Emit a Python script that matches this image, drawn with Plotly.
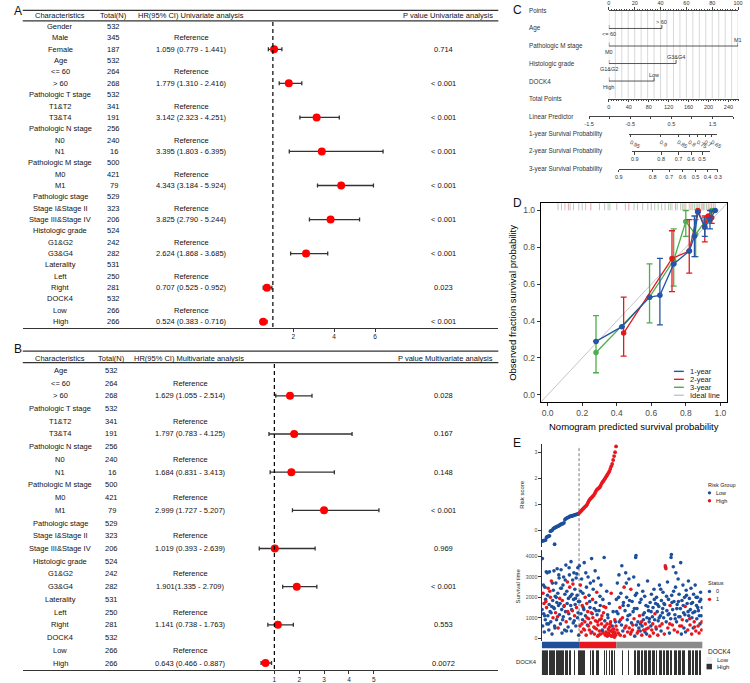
import plotly.graph_objects as go

W, H = 750, 683
FONT = "Liberation Sans, Arial, sans-serif"


def fx(px):
    return px / W


def fy(py):
    return 1 - py / H


# ---------------- Panel A : univariate Cox ----------------
uni_labels = ["Gender", "Male", "Female", "Age", "<= 60", "> 60", "Pathologic T stage", "T1&T2", "T3&T4",
              "Pathologic N stage", "N0", "N1", "Pathologic M stage", "M0", "M1", "Pathologic stage",
              "Stage I&Stage II", "Stage III&Stage IV", "Histologic grade", "G1&G2", "G3&G4", "Laterality",
              "Left", "Right", "DOCK4", "Low", "High"]
uni_n = [532, 345, 187, 532, 264, 268, 532, 341, 191, 256, 240, 16, 500, 421, 79, 529, 323, 206,
         524, 242, 282, 531, 250, 281, 532, 266, 266]
uni_hr_text = ["", "Reference", "1.059 (0.779 - 1.441)", "", "Reference", "1.779 (1.310 - 2.416)",
               "", "Reference", "3.142 (2.323 - 4.251)", "", "Reference", "3.395 (1.803 - 6.395)",
               "", "Reference", "4.343 (3.184 - 5.924)", "", "Reference", "3.825 (2.790 - 5.244)",
               "", "Reference", "2.624 (1.868 - 3.685)", "", "Reference", "0.707 (0.525 - 0.952)",
               "", "Reference", "0.524 (0.383 - 0.716)"]
uni_p = ["", "", "0.714", "", "", "< 0.001", "", "", "< 0.001", "", "", "< 0.001", "", "", "< 0.001",
         "", "", "< 0.001", "", "", "< 0.001", "", "", "0.023", "", "", "< 0.001"]
uni_rows = [2, 5, 8, 11, 14, 17, 20, 23, 26]
uni_hr = [1.059, 1.779, 3.142, 3.395, 4.343, 3.825, 2.624, 0.707, 0.524]
uni_lo = [0.779, 1.310, 2.323, 1.803, 3.184, 2.790, 1.868, 0.525, 0.383]
uni_hi = [1.441, 2.416, 4.251, 6.395, 5.924, 5.244, 3.685, 0.952, 0.716]
uni_ticks = [2, 4, 6]

# ---------------- Panel B : multivariate Cox ----------------
multi_labels = ["Age", "<= 60", "> 60", "Pathologic T stage", "T1&T2", "T3&T4", "Pathologic N stage", "N0",
                "N1", "Pathologic M stage", "M0", "M1", "Pathologic stage", "Stage I&Stage II",
                "Stage III&Stage IV", "Histologic grade", "G1&G2", "G3&G4", "Laterality", "Left", "Right",
                "DOCK4", "Low", "High"]
multi_n = [532, 264, 268, 532, 341, 191, 256, 240, 16, 500, 421, 79, 529, 323, 206, 524, 242, 282,
           531, 250, 281, 532, 266, 266]
multi_hr_text = ["", "Reference", "1.629 (1.055 - 2.514)", "", "Reference", "1.797 (0.783 - 4.125)",
                 "", "Reference", "1.684 (0.831 - 3.413)", "", "Reference", "2.999 (1.727 - 5.207)",
                 "", "Reference", "1.019 (0.393 - 2.639)", "", "Reference", "1.901(1.335 - 2.709)",
                 "", "Reference", "1.141 (0.738 - 1.763)", "", "Reference", "0.643 (0.466 - 0.887)"]
multi_p = ["", "", "0.028", "", "", "0.167", "", "", "0.148", "", "", "< 0.001", "", "", "0.969",
           "", "", "< 0.001", "", "", "0.553", "", "", "0.0072"]
multi_rows = [2, 5, 8, 11, 14, 17, 20, 23]
multi_hr = [1.629, 1.797, 1.684, 2.999, 1.019, 1.901, 1.141, 0.643]
multi_lo = [1.055, 0.783, 0.831, 1.727, 0.393, 1.335, 0.738, 0.466]
multi_hi = [2.514, 4.125, 3.413, 5.207, 2.639, 2.709, 1.763, 0.887]
multi_ticks = [1, 2, 3, 4, 5]

# ---------------- Panel C : nomogram ----------------
nom_rows = ["Points", "Age", "Pathologic M stage", "Histologic grade", "DOCK4", "Total Points",
            "Linear Predictor", "1-year Survival Probability", "2-year Survival Probability",
            "3-year Survival Probability"]
nom_levels = [["<= 60", "> 60"], ["M0", "M1"], ["G1&G2", "G3&G4"], ["High", "Low"]]
nom_points = [[0, 41], [0, 100], [0, 52], [0, 35]]
lp_ticks = [-1.5, -1.0, -0.5, 0.0, 0.5, 1.0, 1.5, 2.0]
lp_labels = ["-1.5", "", "-0.5", "", "0.5", "", "1.5", ""]
surv1_labels = ["0.95", "0.9", "0.85", "0.8", "0.75", "0.7", "0.65"]
surv1_tp = [44, 104, 139, 161, 178, 193, 207]
surv2_labels = ["0.9", "0.8", "0.7", "0.6", "0.5"]
surv2_tp = [52, 105, 140, 165, 187]
surv3_labels = ["0.9", "0.8", "0.7", "0.6", "0.5", "0.4", "0.3"]
surv3_tp = [20, 88, 121, 148, 174, 198, 219]
surv_extent = [[40, 218], [47, 204], [20, 219]]

# ---------------- Panel D : calibration ----------------
cal1_x = [0.28, 0.43, 0.59, 0.65, 0.73, 0.82, 0.85, 0.87, 0.91, 0.94, 0.97]
cal1_y = [0.29, 0.37, 0.53, 0.54, 0.71, 0.78, 0.86, 0.99, 0.91, 0.95, 1.0]
cal1_lo = [None, None, None, 0.38, None, None, 0.75, None, 0.86, 0.90, None]
cal1_hi = [None, None, None, 0.74, None, None, 0.97, None, 0.96, 1.0, None]
cal2_x = [0.44, 0.72, 0.82, 0.87, 0.91, 0.93, 0.95]
cal2_y = [0.335, 0.74, 0.78, 1.0, 0.91, 0.97, 0.96]
cal2_lo = [0.21, 0.56, 0.66, None, 0.83, None, 0.93]
cal2_hi = [0.53, 0.89, 0.95, None, 0.97, None, 1.0]
cal3_x = [0.28, 0.59, 0.73, 0.80, 0.857, 0.91, 0.95]
cal3_y = [0.23, 0.53, 0.73, 0.94, 0.87, 0.94, 1.0]
cal3_lo = [0.12, 0.39, 0.59, 0.86, 0.75, None, None]
cal3_hi = [0.43, 0.71, 0.90, 1.0, 0.95, None, None]
rug_gray = [0.06, 0.08, 0.10, 0.13, 0.15, 0.18, 0.20, 0.22, 0.30, 0.33, 0.36, 0.40, 0.45, 0.50, 0.55,
            0.58, 0.62, 0.66, 0.68, 0.70, 0.72, 0.75, 0.77, 0.80, 0.82, 0.84, 0.86, 0.88, 0.90, 0.92,
            0.94, 0.96]
rug_red = [0.12, 0.25, 0.47, 0.60, 0.74, 0.79, 0.83, 0.87, 0.90, 0.93, 0.95, 0.97]
rug_green = [0.35, 0.52, 0.64, 0.71, 0.78, 0.85, 0.89, 0.91]

# ---------------- Panel E : risk plot ----------------
low_n, high_n, other_n = 116, 116, 268
risk_low_rank = [0, 3, 6, 9, 12, 15, 18, 21, 24, 27, 30, 33, 36, 39, 40, 42, 45, 48, 51, 54, 57, 60, 63, 66,
                 69, 72, 75, 78, 81, 84, 87, 90, 93, 96, 99, 102, 105, 108, 111, 114]
risk_low_score = [-0.40, -0.39, -0.38, -0.37, -0.36, -0.25, -0.23, -0.21, -0.20, -0.02, 0.0, 0.02, 0.08,
                  0.10, -0.52, 0.12, 0.14, 0.16, 0.17, 0.20, 0.22, 0.25, 0.26, 0.27, 0.30, 0.42, 0.46,
                  0.48, 0.50, 0.52, 0.54, 0.55, 0.56, 0.57, 0.58, 0.60, 0.61, 0.62, 0.63, 0.65]
risk_high_rank = [117, 120, 123, 126, 129, 132, 135, 138, 141, 144, 147, 150, 153, 156, 159, 162, 165, 168,
                  171, 174, 177, 180, 183, 186, 189, 192, 195, 198, 201, 204, 207, 210, 213, 216, 219, 222,
                  225, 228, 231]
risk_high_score = [0.68, 0.72, 0.76, 0.80, 0.84, 0.88, 0.92, 0.95, 1.00, 1.08, 1.15, 1.20, 1.24, 1.28,
                   1.32, 1.36, 1.42, 1.50, 1.56, 1.60, 1.62, 1.66, 1.72, 1.80, 1.86, 1.90, 1.96, 2.02,
                   2.08, 2.14, 2.20, 2.26, 2.36, 2.46, 2.55, 2.70, 2.85, 3.00, 3.22]

surv_low_rank = [1, 2, 3, 4, 6, 7, 8, 10, 11, 12, 14, 15, 16, 18, 19, 20, 22, 23, 24, 26,
                 27, 28, 30, 31, 32, 34, 35, 36, 38, 39, 40, 42, 43, 44, 46, 47, 48, 50, 51, 52,
                 54, 55, 56, 58, 59, 60, 62, 63, 64, 66, 67, 68, 70, 71, 72, 74, 75, 76, 78, 79,
                 80, 82, 83, 84, 86, 87, 88, 90, 91, 92, 94, 95, 96, 98, 99, 100, 102, 103, 104, 106,
                 107, 108, 110, 111, 112, 114, 115,
                 5, 9, 13, 17, 21, 25, 29, 33, 37, 41, 45, 49, 53, 57, 61, 65, 69, 73, 77, 81,
                 85, 89, 93, 97, 101, 105, 109, 113]
surv_low_days = [1400, 3900, 600, 2200, 1200, 1700, 300, 2500, 900, 1900,
                 3250, 1500, 700, 2100, 1100, 2450, 400, 1650, 3250, 1300,
                 2000, 800, 2800, 1550, 200, 1850, 1000, 2350, 3300, 1450,
                 600, 2050, 1250, 2700, 900, 1750, 3400, 2200, 500, 1600,
                 2950, 1150, 1950, 700, 2450, 3350, 1400, 250, 1850, 2600,
                 1050, 3000, 1600, 400, 2150, 1300, 3580, 800, 2300, 1700,
                 2750, 550, 1950, 1200, 3100, 2500, 950, 1600, 3750, 350,
                 2150, 1350, 2850, 750, 1900, 3200, 1100, 2400, 1650, 600,
                 2950, 1500, 2100, 1000, 3450, 1800, 150,
                 2600, 1100, 1800, 3200, 700, 2300, 1250, 2700, 1500, 500,
                 2000, 1050, 3100, 1700, 2450, 900, 1550, 2850, 350, 1300,
                 3450, 2050, 1400, 2650, 850, 1950, 3150, 1250]
surv_low_status = [0, 0, 0, 1, 0, 1, 0, 0, 0, 0, 0, 1, 0, 0, 0, 1, 0, 0, 0, 0,
                   1, 0, 1, 0, 0, 0, 1, 0, 0, 0, 0, 0, 1, 0, 0, 0, 0, 0, 1, 0,
                   0, 0, 1, 0, 0, 0, 0, 0, 1, 0, 0, 0, 1, 0, 0, 0, 0, 1, 0, 0,
                   1, 0, 0, 0, 0, 1, 0, 0, 0, 0, 0, 1, 0, 0, 0, 0, 1, 0, 0, 0,
                   0, 1, 0, 0, 0, 0, 0,
                   0, 0, 1, 0, 0, 1, 0, 0, 0, 0, 0, 1, 0, 0, 0, 0, 0, 0, 0, 1,
                   0, 0, 0, 1, 0, 0, 0, 0]

surv_high_rank = [117, 118, 119, 120, 122, 123, 124, 126, 127, 128, 130, 131, 132, 134, 135, 136, 138, 139,
                  140, 142, 143, 144, 146, 147, 148, 150, 151, 152, 154, 155, 156, 158, 159, 160, 162, 163,
                  164, 166, 167, 168, 170, 171, 172, 174, 175, 176, 178, 179, 180, 182, 183, 184, 186, 187,
                  188, 190, 191, 192, 194, 195, 196, 198, 199, 200, 202, 203, 204, 206, 207, 208, 210, 211,
                  212, 214, 215, 216, 218, 219, 220, 222, 223, 224, 226, 227, 228, 230, 231,
                  121, 125, 129, 133, 137, 141, 145, 149, 153, 157, 161, 165, 169, 173, 177, 181, 185, 189,
                  193, 197, 201, 205, 209, 213, 217, 221, 225, 229]
surv_high_days = [3550, 1800, 600, 2600, 1200, 300, 2900, 1600, 900, 2200,
                  450, 1400, 3700, 800, 2000, 1100, 150, 2500, 1700, 650,
                  1300, 3000, 950, 2100, 400, 1500, 2700, 750, 1250, 3900,
                  300, 1900, 1000, 2400, 550, 1450, 200, 3300, 850, 1750,
                  450, 2250, 1150, 100, 650, 2950, 1350, 350, 900, 1600,
                  200, 2600, 700, 1100, 400, 1900, 250, 1250, 3950, 550,
                  850, 150, 1500, 300, 2300, 700, 100, 1000, 450, 250,
                  1700, 550, 150, 800, 350, 2200, 100, 600, 300, 1300,
                  200, 450, 50, 900, 250, 150, 600,
                  2300, 700, 1500, 400, 3200, 1000, 600, 1800, 250, 1200,
                  2800, 500, 1350, 800, 150, 2050, 950, 350, 1550, 600,
                  200, 1150, 400, 700, 100, 450, 300, 800]
surv_high_status = [0, 0, 1, 1, 0, 1, 0, 1, 0, 0, 1, 0, 0, 1, 1, 0, 1, 0, 1, 0,
                    1, 0, 1, 0, 1, 0, 0, 1, 1, 0, 0, 1, 1, 0, 1, 0, 1, 0, 1, 0,
                    1, 1, 0, 1, 1, 0, 0, 1, 1, 0, 1, 0, 1, 1, 0, 0, 1, 1, 0, 1,
                    0, 1, 1, 1, 0, 1, 1, 0, 1, 1, 0, 1, 1, 1, 1, 1, 1, 0, 1, 0,
                    1, 1, 1, 1, 1, 1, 1,
                    0, 1, 0, 1, 0, 1, 1, 0, 1, 0, 0, 1, 0, 1, 1, 0, 1, 0, 1, 1,
                    1, 0, 1, 1, 1, 1, 1, 0]

surv_other_rank = [232, 234, 235, 237, 238, 240, 241, 243, 244, 246, 248, 249, 251, 252, 254, 256, 257, 259,
                   261, 262, 264, 266, 267, 269, 271, 272, 274, 276, 277, 279, 281, 282, 284, 286, 287, 289,
                   291, 292, 293, 294, 296, 297, 299, 301, 302, 304, 306, 307, 309, 311, 312, 314, 316, 317,
                   319, 321, 322, 324, 326, 327, 329, 331, 332, 334, 336, 337, 339, 341, 342, 344, 346, 347,
                   349, 351, 352, 354, 356, 357, 359, 361, 362, 364, 366, 367, 369, 371, 372, 374, 376, 377,
                   379, 381, 382, 384, 385, 386, 387, 389, 391, 392, 394, 396, 397, 399, 401, 402, 403, 404,
                   406, 407, 409, 411, 412, 414, 416, 417, 419, 421, 422, 424, 426, 427, 429, 431, 432, 434,
                   436, 437, 439, 441, 442, 444, 446, 447, 449, 451, 452, 454, 456, 457, 459, 461, 462, 464,
                   466, 467, 469, 471, 472, 474, 476, 477, 479, 481, 482, 484, 486, 487, 489, 491, 492, 494,
                   496, 497, 499,
                   233, 239, 245, 253, 258, 263, 268, 273, 278, 283, 288, 295, 300, 305, 310, 315, 320, 325,
                   330, 335, 340, 345, 350, 355, 360, 365, 370, 375, 380, 388, 393, 398, 405, 410, 415, 420,
                   425, 430, 435, 440, 445, 450, 455, 460, 465, 470, 475, 480, 485, 490, 495, 498]
surv_other_days = [1900, 400, 2700, 1200, 250, 3100, 800, 1500, 150, 2200,
                   650, 3550, 1000, 350, 1750, 2500, 100, 1350, 3200, 600,
                   2000, 900, 300, 1600, 2900, 500, 1150, 200, 2400, 750,
                   1800, 400, 1300, 3000, 950, 100, 2100, 3950, 4050, 650,
                   1450, 250, 800, 2600, 500, 1100, 350, 700, 1900, 150,
                   600, 2300, 900, 400, 1250, 300, 700, 1600, 200, 1000,
                   2800, 500, 1350, 800, 100, 1750, 600, 2150, 400, 1050,
                   1500, 250, 2400, 900, 1200, 1700, 450, 2000, 1300, 150,
                   850, 1550, 2600, 600, 1100, 350, 1850, 700, 1450, 2250,
                   1000, 200, 1650, 3550, 3480, 3400, 800, 1350, 2750, 500,
                   1900, 1200, 250, 1600, 950, 3950, 4100, 2100, 650, 1400,
                   3500, 1800, 400, 1150, 2500, 3200, 800, 1650, 300, 2900,
                   1050, 2150, 600, 1450, 3700, 200, 1850, 900, 2600, 1250,
                   500, 2000, 1550, 300, 2350, 850, 1700, 400, 2800, 1100,
                   1950, 650, 1400, 2450, 200, 1000, 1750, 500, 2150, 800,
                   1300, 2600, 350, 1600, 950, 2000, 600, 1350, 250, 1800,
                   700, 2250, 1100, 400, 1500,
                   1300, 2000, 900, 1600, 500, 2700, 1100, 1850, 300, 650,
                   1450, 2200, 350, 1750, 800, 1150, 2050, 450, 1550, 950,
                   1300, 700, 1900, 550, 1650, 1000, 2400, 1250, 1700, 2050,
                   1150, 700, 1750, 2300, 950, 1450, 1800, 1050, 600, 1600,
                   1150, 2100, 1300, 950, 1700, 1250, 550, 2000, 1500, 1100,
                   1900, 800]
surv_other_status = [0, 1, 0, 0, 1, 0, 0, 1, 1, 0, 0, 0, 1, 0, 0, 1, 1, 0, 0, 1,
                     0, 0, 1, 0, 0, 1, 0, 1, 1, 0, 0, 1, 0, 0, 1, 0, 0, 0, 0, 0,
                     0, 1, 0, 0, 0, 1, 0, 0, 0, 1, 0, 0, 0, 1, 0, 0, 1, 0, 0, 0,
                     0, 1, 0, 0, 1, 0, 0, 0, 1, 0, 0, 1, 0, 0, 1, 0, 0, 0, 0, 1,
                     0, 0, 0, 1, 0, 0, 0, 1, 0, 0, 0, 1, 0, 1, 0, 1, 0, 0, 0, 1,
                     0, 0, 0, 1, 0, 0, 0, 0, 1, 0, 0, 0, 1, 0, 0, 0, 0, 0, 1, 0,
                     0, 0, 1, 0, 0, 0, 0, 1, 0, 0, 0, 0, 1, 0, 0, 0, 0, 1, 0, 0,
                     0, 1, 0, 0, 1, 0, 0, 0, 0, 1, 0, 0, 1, 0, 0, 0, 1, 0, 1, 0,
                     0, 0, 0, 1, 0,
                     0, 0, 1, 0, 1, 0, 0, 0, 1, 1, 0, 0, 1, 0, 1, 0, 0, 1, 0, 0,
                     0, 1, 0, 1, 0, 0, 0, 0, 0, 0, 0, 1, 0, 0, 0, 0, 0, 0, 1, 0,
                     0, 0, 0, 1, 0, 0, 1, 0, 0, 0, 0, 1]

dock4_bins = [1, 1, 1, 1, 1, 1, 0, 1, 1, 1, 1, 1, 1,
              0, 0,
              1, 1, 1, 1, 1, 1, 1, 1,
              0, 1, 1, 1, 0, 1, 1, 0, 0, 0, 1, 0, 0, 0,
              1, 1, 1, 1, 1, 1, 1,
              0, 0, 0, 0, 0, 1, 0, 1, 1, 0, 0, 1, 1, 1,
              0, 0, 0, 0, 0, 1, 0, 1, 0, 0, 1, 1, 0, 1, 1, 0, 1,
              0, 0, 0, 0, 0, 0, 0, 1, 0, 0, 0, 0, 0, 1, 0, 0, 0, 0, 0,
              1, 1, 0, 1, 1, 1, 0, 1, 1, 0, 1, 1, 1, 0,
              1, 1, 1, 0, 1, 1, 1, 0, 1, 0, 0, 1, 1, 1, 1, 0,
              1, 1, 0, 1, 1, 1, 0, 1, 1, 0, 0, 1, 1, 1, 0, 1, 1, 1, 0,
              1, 1, 1, 0, 0, 0, 1, 1, 1, 0, 1, 1, 0, 1, 1, 1, 0, 1, 1, 0, 0]

# ---------------- colours ----------------
BLUE = "#1d4f9b"
RED = "#e8161e"
GRAYG = "#8a8a8a"
C1Y, C2Y, C3Y = "#2356a6", "#e31a1c", "#4cae4c"

fig = go.Figure()
shapes = []
ann = []


def esc(s):
    return s.replace("&", "&amp;").replace("<", "&lt;").replace(">", "&gt;")


def txt(x, y, s, size=7.5, xref="paper", yref="paper", xa="center", ya="middle", color="#111111",
        angle=0, yshift=0, xshift=0):
    ann.append(dict(x=x, y=y, text=esc(s), xref=xref, yref=yref, xanchor=xa, yanchor=ya,
                    showarrow=False, textangle=angle, yshift=yshift, xshift=xshift,
                    font=dict(family=FONT, size=size, color=color)))


def hline(xref, yref, x0, x1, y0, y1, color="#333333", width=1.0, dash=None, layer="above"):
    ln = dict(color=color, width=width)
    if dash:
        ln["dash"] = dash
    shapes.append(dict(type="line", xref=xref, yref=yref, x0=x0, x1=x1, y0=y0, y1=y1, line=ln, layer=layer))


layout = {}


# ---------------- tables A and B ----------------
def add_table(ax, labels, ns, hr_text, pvals, rows, hr, lo, hi, ticks, one_px, ppu, row0, rstep,
              top_px, hdr_px, line_px, bot_px, n_x, hr_x, hr_hdr_x, hr_head, p_head):
    xa = "x" if ax == 1 else "x%d" % ax
    ya = "y" if ax == 1 else "y%d" % ax
    xkey = "xaxis" if ax == 1 else "xaxis%d" % ax
    ykey = "yaxis" if ax == 1 else "yaxis%d" % ax
    r = lambda p: (p - row0) / rstep
    xr = [1 + (18 - one_px) / ppu, 1 + (500 - one_px) / ppu]
    yr = [r(bot_px), r(top_px)]
    layout[xkey] = dict(domain=[fx(18), fx(500)], range=xr, anchor=ya, showline=True, linecolor="#333333",
                        linewidth=1.2, ticks="outside", ticklen=3, tickwidth=0.8, tickcolor="#333333",
                        tickvals=ticks, tickfont=dict(family=FONT, size=6.5, color="#222222"),
                        showgrid=False, zeroline=False, fixedrange=True)
    layout[ykey] = dict(domain=[fy(bot_px), fy(top_px)], range=yr, anchor=xa, visible=False,
                        fixedrange=True)
    fig.add_trace(go.Scatter(
        x=hr, y=rows, mode="markers", xaxis=xa, yaxis=ya, showlegend=False, hoverinfo="skip",
        marker=dict(color="#ff0000", size=8, line=dict(width=0)),
        error_x=dict(type="data", symmetric=False, array=[h - m for h, m in zip(hi, hr)],
                     arrayminus=[m - l for m, l in zip(hr, lo)], color="#333333", thickness=1.3,
                     width=2)))
    hline("paper", ya + " domain", fx(18), fx(500), 1, 1, width=1.2)
    hline("paper", ya, fx(18), fx(500), r(line_px), r(line_px), width=1.2)
    hline(xa, ya, 1, 1, r(line_px) + 0.1, yr[0], color="#000000", width=1.2, dash="4px,3px")
    hy = r(hdr_px)
    txt(fx(56), hy, "Characteristics", yref=ya)
    txt(fx(n_x), hy, "Total(N)", yref=ya)
    txt(fx(hr_hdr_x), hy, hr_head, yref=ya, xa="left")
    txt(fx(497), hy, p_head, yref=ya, xa="right")
    for i, (lab, n, ht, pv) in enumerate(zip(labels, ns, hr_text, pvals)):
        txt(fx(56), i, lab, yref=ya)
        txt(fx(n_x), i, str(n), yref=ya)
        if ht:
            txt(fx(hr_x), i, ht, yref=ya)
        if pv:
            txt(fx(444), i, pv, yref=ya)


add_table(1, uni_labels, uni_n, uni_hr_text, uni_p, uni_rows, uni_hr, uni_lo, uni_hi, uni_ticks,
          271.5, 20.7, 25.7, 11.4, 9.5, 15.0, 20.0, 328.0, 110, 189, 132.5,
          "HR(95% CI) Univariate analysis", "P value Univariate analysis")
add_table(2, multi_labels, multi_n, multi_hr_text, multi_p, multi_rows, multi_hr, multi_lo, multi_hi,
          multi_ticks, 273.0, 25.2, 371.0, 12.78, 351.7, 359.0, 363.3, 672.0, 108, 188, 128.5,
          "HR(95% CI) Multivariate analysis", "P value Multivariate analysis")

# ---------------- nomogram C ----------------
ROW0, RSTEP = 10.0, 17.6
TP0, TPP = 612.0, 0.505
row_px = [ROW0 + RSTEP * i for i in range(len(nom_rows))]
NOMC = "#444444"
tickfont_c = dict(family=FONT, size=5.5, color="#333333")
layout["xaxis3"] = dict(domain=[fx(612), fx(743)], range=[0, 100], anchor="y3", side="top", showline=True,
                        linecolor=NOMC, linewidth=0.8, ticks="outside", ticklen=3, tickwidth=0.8,
                        tickcolor=NOMC, tickvals=[0, 20, 40, 60, 80, 100], tickfont=tickfont_c,
                        showgrid=False, zeroline=False,
                        minor=dict(dtick=2, ticks="outside", ticklen=1.5, tickwidth=0.5, tickcolor=NOMC,
                                   showgrid=False))
layout["yaxis3"] = dict(domain=[fy(row_px[5]), fy(row_px[0])], range=[5, 0], anchor="x3", visible=False)
for v in range(0, 101, 5):
    hline("x3", "y3", v, v, 0, 5, color="#c8c8c8", width=0.7, layer="below")
for i, (lv, pts) in enumerate(zip(nom_levels, nom_points)):
    row = i + 1
    tx, ty = [pts[0], pts[-1], None], [row, row, None]
    for p in pts:
        tx += [p, p, None]
        ty += [row, row - 0.2, None]
    fig.add_trace(go.Scatter(x=tx, y=ty, mode="lines", line=dict(color=NOMC, width=0.9), xaxis="x3",
                             yaxis="y3", showlegend=False, hoverinfo="skip"))
    txt(pts[0], row, lv[0], size=5.5, xref="x3", yref="y3", ya="top", yshift=-0.5, color="#333333")
    txt(pts[-1], row, lv[-1], size=5.5, xref="x3", yref="y3", ya="bottom", yshift=1.5, color="#333333")


def free_axis(key, trace_key, dom_tp, rng, pos_px, tickvals, ticktext, minor=None):
    d = dict(domain=[fx(TP0 + dom_tp[0] * TPP), fx(TP0 + dom_tp[1] * TPP)], range=rng, anchor="free",
             position=fy(pos_px), side="bottom", showline=True, linecolor=NOMC, linewidth=0.8,
             ticks="outside", ticklen=2.5, tickwidth=0.7, tickcolor=NOMC, tickvals=tickvals,
             ticktext=ticktext, tickfont=tickfont_c, showgrid=False, zeroline=False)
    if minor:
        d["minor"] = minor
    layout[key] = d
    fig.add_trace(go.Scatter(x=[rng[0]], y=[0], mode="markers", marker=dict(opacity=0), xaxis=trace_key,
                             yaxis="y3", showlegend=False, hoverinfo="skip"))


free_axis("xaxis4", "x4", [0, 260], [0, 260], row_px[5], [0, 40, 80, 120, 160, 200, 240],
          ["0", "40", "80", "120", "160", "200", "240"],
          minor=dict(dtick=5, ticks="outside", ticklen=1.5, tickwidth=0.5, tickcolor=NOMC))
lp_dom = [(592 - TP0) / TPP, (592 + 3.5 * 41.7 - TP0) / TPP]
free_axis("xaxis5", "x5", lp_dom, [lp_ticks[0], lp_ticks[-1]], row_px[6], lp_ticks, lp_labels)
for k, (tp, lab, ext, rp) in enumerate(zip([surv1_tp, surv2_tp, surv3_tp],
                                           [surv1_labels, surv2_labels, surv3_labels],
                                           surv_extent, row_px[7:10])):
    free_axis("xaxis%d" % (6 + k), "x%d" % (6 + k), ext, ext, rp, tp, lab)
for name, rp in zip(nom_rows, row_px):
    txt(fx(529), fy(rp), name, size=6.3, xa="left", color="#333333")

# ---------------- calibration D ----------------
axis_d = dict(showline=True, mirror=True, linecolor="#000000", linewidth=1.1, ticks="outside", ticklen=3,
              tickwidth=0.8, tickcolor="#333333", tickvals=[0, 0.2, 0.4, 0.6, 0.8, 1.0], tickformat=".1f",
              tickfont=dict(family=FONT, size=8.5, color="#4d4d4d"), showgrid=False, zeroline=False,
              range=[-0.04, 1.04])
layout["xaxis9"] = dict(axis_d, domain=[fx(543), fx(732)], anchor="y9")
layout["yaxis9"] = dict(axis_d, domain=[fy(403), fy(203)], anchor="x9")
fig.add_trace(go.Scatter(x=[-0.04, 1.04], y=[-0.04, 1.04], mode="lines", line=dict(color="#c4c4c4", width=1),
                         xaxis="x9", yaxis="y9", showlegend=False, hoverinfo="skip"))
for xs, col in ((rug_gray, "#b5b5b5"), (rug_red, "#e88a8a"), (rug_green, "#8fcf8f")):
    fig.add_trace(go.Scatter(x=xs, y=[1.02] * len(xs), mode="markers", xaxis="x9", yaxis="y9",
                             marker=dict(symbol="line-ns", size=5, line=dict(width=0.8, color=col)),
                             showlegend=False, hoverinfo="skip"))


def cal_trace(xs, ys, lo, hi, col):
    up = [(h - y) if h is not None else None for y, h in zip(ys, hi)]
    dn = [(y - l) if l is not None else None for y, l in zip(ys, lo)]
    fig.add_trace(go.Scatter(x=xs, y=ys, mode="lines+markers", xaxis="x9", yaxis="y9",
                             line=dict(color=col, width=1.3), marker=dict(color=col, size=5.5),
                             error_y=dict(type="data", symmetric=False, array=up, arrayminus=dn,
                                          color=col, thickness=1.3, width=3),
                             showlegend=False, hoverinfo="skip"))


cal_trace(cal3_x, cal3_y, cal3_lo, cal3_hi, C3Y)
cal_trace(cal2_x, cal2_y, cal2_lo, cal2_hi, C2Y)
cal_trace(cal1_x, cal1_y, cal1_lo, cal1_hi, C1Y)
txt(fx(637.5), fy(427), "Nomogram predicted survival probability", size=9.5, color="#000000")
txt(fx(515), fy(303), "Observed fraction survival probability", size=9.5, color="#000000", angle=-90)
for lab, col, yy in (("1-year", C1Y, 372), ("2-year", C2Y, 380), ("3-year", C3Y, 388),
                     ("Ideal line", "#c4c4c4", 396)):
    hline("paper", "paper", fx(678), fx(688), fy(yy), fy(yy), color=col, width=1.4)
    txt(fx(692), fy(yy), lab, size=7.5, xa="left", color="#222222")

# ---------------- risk plot E ----------------
total_n = low_n + high_n + other_n
edom = [fx(544), fx(707)]
small = dict(family=FONT, size=5.2, color="#4d4d4d")
layout["xaxis10"] = dict(domain=edom, range=[0, total_n], anchor="y10", visible=False)
layout["yaxis10"] = dict(domain=[fy(548), fy(445)], range=[-0.61, 3.31], anchor="x10", showline=True,
                         linecolor="#333333", linewidth=0.8, ticks="outside", ticklen=2.5, tickwidth=0.7,
                         tickcolor="#333333", tickvals=[0, 1, 2, 3], tickfont=small, showgrid=False,
                         zeroline=False)
layout["xaxis11"] = dict(domain=edom, range=[0, total_n], anchor="y11", visible=False)
layout["yaxis11"] = dict(domain=[fy(643), fy(551)], range=[-146, 4341], anchor="x11", showline=True,
                         linecolor="#333333", linewidth=0.8, ticks="outside", ticklen=2.5, tickwidth=0.7,
                         tickcolor="#333333", tickvals=[0, 1000, 2000, 3000, 4000], tickfont=small,
                         showgrid=False, zeroline=False)
layout["xaxis13"] = dict(domain=edom, range=[0, total_n], anchor="y13", visible=False)
layout["yaxis13"] = dict(domain=[fy(677), fy(652)], range=[-0.5, 0.5], anchor="x13", visible=False)

fig.add_trace(go.Scatter(x=risk_low_rank, y=risk_low_score, mode="markers", xaxis="x10", yaxis="y10",
                         marker=dict(color=BLUE, size=3.8), showlegend=False, hoverinfo="skip"))
fig.add_trace(go.Scatter(x=risk_high_rank, y=risk_high_score, mode="markers", xaxis="x10", yaxis="y10",
                         marker=dict(color=RED, size=3.8), showlegend=False, hoverinfo="skip"))

s_rank = surv_low_rank + surv_high_rank + surv_other_rank
s_days = surv_low_days + surv_high_days + surv_other_days
s_stat = surv_low_status + surv_high_status + surv_other_status
pts = list(zip(s_rank, s_days, s_stat))
for st, col in ((0, BLUE), (1, RED)):
    sel = [p for p in pts if p[2] == st]
    fig.add_trace(go.Scatter(x=[p[0] for p in sel], y=[p[1] for p in sel], mode="markers", xaxis="x11",
                             yaxis="y11", marker=dict(color=col, size=3.6), showlegend=False,
                             hoverinfo="skip"))

for x0, x1, col in ((0, low_n, BLUE), (low_n, low_n + high_n, RED), (low_n + high_n, total_n, GRAYG)):
    shapes.append(dict(type="rect", xref="x11", yref="paper", x0=x0, x1=x1, y0=fy(650), y1=fy(643.5),
                       fillcolor=col, line=dict(width=0), layer="above"))
hline("x10", "paper", low_n, low_n, fy(643), fy(447), color="#555555", width=0.8, dash="3px,2px")

dx = total_n / len(dock4_bins)
fig.add_trace(go.Heatmap(z=[dock4_bins], x0=dx / 2, dx=dx, y0=0, dy=1, xaxis="x13", yaxis="y13",
                         colorscale=[[0, "#ffffff"], [1, "#333333"]], zmin=0, zmax=1, showscale=False,
                         hoverinfo="skip"))

txt(fx(524), fy(496), "Risk score", size=6, angle=-90, color="#222222")
txt(fx(520), fy(588), "Survival time", size=6, angle=-90, color="#222222")
txt(fx(541), fy(664), "DOCK4", size=5.8, xa="right", color="#222222")

txt(fx(710), fy(486), "Risk Group", size=5.5, xa="left", color="#222222")
txt(fx(710), fy(585), "Status", size=5.5, xa="left", color="#222222")
txt(fx(710), fy(653), "DOCK4", size=6.5, xa="left", color="#222222")
for lab, col, yy in (("Low", BLUE, 494), ("High", RED, 502), ("0", BLUE, 593), ("1", RED, 601)):
    shapes.append(dict(type="circle", xref="paper", yref="paper", x0=fx(712.3), x1=fx(715.7),
                       y0=fy(yy + 1.7), y1=fy(yy - 1.7), fillcolor=col, line=dict(width=0)))
    txt(fx(719), fy(yy), lab, size=5.5, xa="left", color="#222222")
for lab, col, yy in (("Low", "#f2f2f2", 661.5), ("High", "#333333", 668.5)):
    shapes.append(dict(type="rect", xref="paper", yref="paper", x0=fx(711), x1=fx(716.5),
                       y0=fy(yy + 2.8), y1=fy(yy - 2.8), fillcolor=col, line=dict(width=0)))
    txt(fx(719.5), fy(yy), lab, size=6, xa="left", color="#222222")

for lab, x, y in (("A", 7, 10), ("B", 7, 350), ("C", 513, 9), ("D", 513, 203), ("E", 513, 444)):
    txt(fx(x), fy(y), lab, size=12, xa="left", color="#111111")

fig.update_layout(width=W, height=H, margin=dict(l=0, r=0, t=0, b=0), paper_bgcolor="white",
                  plot_bgcolor="rgba(0,0,0,0)", showlegend=False, font=dict(family=FONT), shapes=shapes,
                  annotations=ann, **layout)
fig.write_html("out.html")
